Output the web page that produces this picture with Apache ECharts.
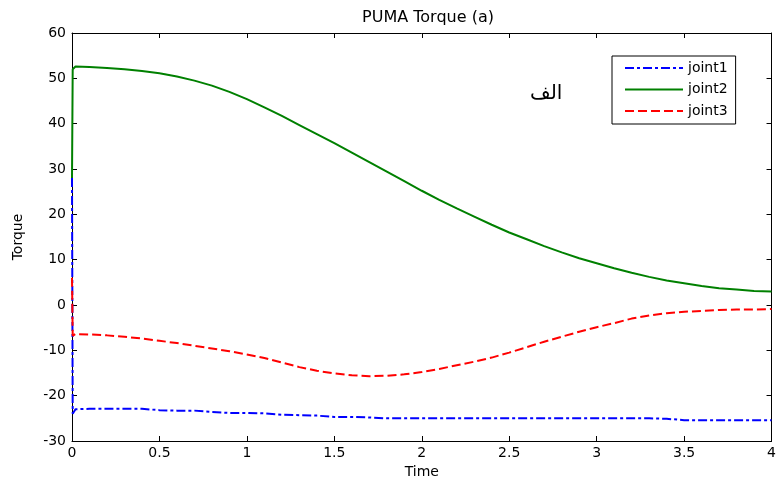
<!DOCTYPE html>
<html>
<head>
<meta charset="utf-8">
<script src="https://cdn.jsdelivr.net/npm/echarts@6/dist/echarts.min.js"></script>
<style>
  html, body { margin: 0; padding: 0; background: #fff; }
  #chart { width: 779px; height: 484px; }
</style>
</head>
<body>
<div id="chart"></div>
<script>
// Simulation time samples (s)
const time = [0, 0.004, 0.02, 0.1, 0.2, 0.3, 0.4, 0.5, 0.6, 0.7, 0.8, 0.9, 1.0,
  1.1, 1.2, 1.3, 1.4, 1.5, 1.6, 1.7, 1.8, 1.9, 2.0, 2.1, 2.2, 2.3, 2.4, 2.5,
  2.6, 2.7, 2.8, 2.9, 3.0, 3.1, 3.2, 3.3, 3.4, 3.5, 3.6, 3.7, 3.8, 3.9, 4.0];

// Joint torques
const joint1 = [28, -24, -23.0, -22.9, -22.9, -22.9, -22.9, -23.2, -23.3, -23.3, -23.6, -23.8, -23.8,
  -23.9, -24.2, -24.3, -24.4, -24.7, -24.7, -24.8, -25.0, -25.0, -25.0, -25.0, -25.0, -25.0, -25.0, -25.0,
  -25.0, -25.0, -25.0, -25.0, -25.0, -25.0, -25.0, -25.0, -25.1, -25.4, -25.4, -25.4, -25.4, -25.4, -25.4];
const joint2 = [28, 52, 52.6, 52.5, 52.3, 52.0, 51.6, 51.1, 50.4, 49.5, 48.4, 47.0, 45.4,
  43.6, 41.7, 39.7, 37.7, 35.7, 33.6, 31.5, 29.4, 27.3, 25.2, 23.2, 21.3, 19.5, 17.7, 16.0,
  14.5, 13.0, 11.6, 10.3, 9.2, 8.1, 7.1, 6.2, 5.4, 4.8, 4.2, 3.7, 3.4, 3.1, 3.0];
const joint3 = [6, -6.8, -6.4, -6.5, -6.7, -7.0, -7.4, -7.9, -8.4, -9.0, -9.6, -10.2, -10.9,
  -11.7, -12.7, -13.7, -14.5, -15.1, -15.5, -15.7, -15.6, -15.3, -14.8, -14.1, -13.3, -12.5, -11.6, -10.5,
  -9.3, -8.1, -7.0, -5.9, -4.9, -4.0, -3.0, -2.3, -1.8, -1.5, -1.3, -1.1, -1.0, -1.0, -0.9];

const seriesNames = ['joint1', 'joint2', 'joint3'];
const xTicks = { min: 0, max: 4, interval: 0.5 };
const yTicks = { min: -30, max: 60, interval: 10 };

const FONT = 'DejaVu Sans';

function pairs(ys) { return time.map((t, i) => [t, ys[i]]); }

const axisLineStyle = { show: true, onZero: false, lineStyle: { color: '#000', width: 1 } };
const tickStyle = { show: true, inside: true, length: 5, lineStyle: { color: '#000', width: 1 } };

const chart = echarts.init(document.getElementById('chart'));
chart.setOption({
  animation: false,
  backgroundColor: '#fff',
  title: {
    text: 'PUMA Torque (a)',
    left: 423, top: 5, textAlign: 'center',
    textStyle: { fontFamily: FONT, fontSize: 16, fontWeight: 'normal', color: '#000' }
  },
  grid: { left: 72, right: 6, top: 33, bottom: 43, containLabel: false },
  legend: {
    orient: 'vertical',
    left: 612, top: 56,
    padding: [5, 8, 6, 12],
    itemGap: 7.5,
    itemWidth: 58, itemHeight: 14,
    borderColor: '#000', borderWidth: 1,
    backgroundColor: '#fff',
    itemStyle: { opacity: 0 },
    textStyle: { fontFamily: FONT, fontSize: 14, color: '#000' },
    data: seriesNames
  },
  xAxis: [{
    type: 'value', position: 'bottom',
    min: xTicks.min, max: xTicks.max, interval: xTicks.interval,
    name: 'Time', nameLocation: 'middle', nameGap: 20,
    nameTextStyle: { fontFamily: FONT, fontSize: 14, color: '#000' },
    axisLine: axisLineStyle, axisTick: tickStyle,
    axisLabel: { fontFamily: FONT, fontSize: 14, color: '#000', margin: 5 },
    splitLine: { show: false }
  }, {
    type: 'value', position: 'top',
    min: xTicks.min, max: xTicks.max, interval: xTicks.interval,
    axisLine: axisLineStyle, axisTick: tickStyle,
    axisLabel: { show: false }, splitLine: { show: false }
  }],
  yAxis: [{
    type: 'value', position: 'left',
    min: yTicks.min, max: yTicks.max, interval: yTicks.interval,
    name: 'Torque', nameLocation: 'middle', nameGap: 47, nameRotate: 90,
    nameTextStyle: { fontFamily: FONT, fontSize: 14, color: '#000' },
    axisLine: axisLineStyle, axisTick: tickStyle,
    axisLabel: { fontFamily: FONT, fontSize: 14, color: '#000', margin: 6 },
    splitLine: { show: false }
  }, {
    type: 'value', position: 'right',
    min: yTicks.min, max: yTicks.max, interval: yTicks.interval,
    axisLine: axisLineStyle, axisTick: tickStyle,
    axisLabel: { show: false }, splitLine: { show: false }
  }],
  series: [{
    name: 'joint1', type: 'line', data: pairs(joint1),
    symbol: 'none', showSymbol: false, color: '#0000ff',
    lineStyle: { color: '#0000ff', width: 2, type: [9, 3, 3, 3] }
  }, {
    name: 'joint2', type: 'line', data: pairs(joint2),
    symbol: 'none', showSymbol: false, color: '#008000',
    lineStyle: { color: '#008000', width: 2, type: 'solid' }
  }, {
    name: 'joint3', type: 'line', data: pairs(joint3),
    symbol: 'none', showSymbol: false, color: '#ff0000',
    lineStyle: { color: '#ff0000', width: 2, type: [9, 4] }
  }],
  graphic: [{
    type: 'text', left: 530, top: 84,
    style: { text: 'الف', fontFamily: FONT, fontSize: 20, fill: '#000' }
  }]
});
</script>
</body>
</html>
